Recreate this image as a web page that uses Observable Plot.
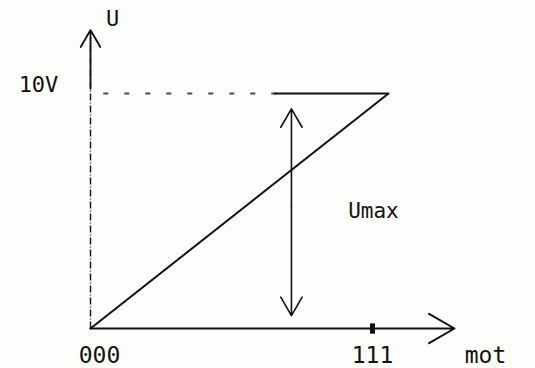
<!DOCTYPE html>
<html><head><meta charset="utf-8">
<script src="https://cdn.jsdelivr.net/npm/d3@7"></script>
<script src="https://cdn.jsdelivr.net/npm/@observablehq/plot@0.6"></script>
<style>body{margin:0;background:#fdfdfb;} svg{background:#fdfdfb;}</style>
</head><body><div id="c"></div>
<script>
// words (binary input) and output voltage
const words = ["000", "111"];
const wordValues = [0, 7];
const voltages = [0, 10];
const vmaxLabel = "10V";
const umaxPos = 4.72;      // word position of the Umax annotation arrow
const xAxisEnd = 8.55;     // arrow tip of horizontal axis
const yAxisEnd = 12.7;     // arrow tip of vertical axis

const ramp = wordValues.map((w, i) => ({w, v: voltages[i], label: words[i]}));
const ink = "#111";
const font = "DejaVu Sans Mono, monospace";
const wordText = (d, dx) => Plot.text([d], {x: "w", y: () => 0, text: "label", dx, dy: 27, fontSize: 23, fill: ink, letterSpacing: 2, textAnchor: "middle"});

const chart = Plot.plot({
  width: 535, height: 368,
  marginLeft: 90, marginRight: 147, marginTop: 93, marginBottom: 40,
  x: {domain: [0, 7], axis: null},
  y: {domain: [0, 10], axis: null},
  style: {background: "#fdfdfb", fontFamily: font},
  marks: [
    // vertical axis (dashed) with arrow
    Plot.link([{}], {x1: 0, y1: 0, x2: 0, y2: yAxisEnd - 0.3, stroke: ink, strokeWidth: 1.4, strokeDasharray: "7,2,1,2"}),
    Plot.arrow([{}], {x1: 0, y1: 10.2, x2: 0, y2: yAxisEnd, stroke: ink, strokeWidth: 1.8, headLength: 18}),
    // horizontal axis with arrow
    Plot.arrow([{}], {x1: 0, y1: 0, x2: xAxisEnd, y2: 0, stroke: ink, strokeWidth: 2, headLength: 22}),
    // tick at 111
    Plot.link([{}], {x1: 7, y1: -0.22, x2: 7, y2: 0.22, dx: -16, stroke: ink, strokeWidth: 5}),
    // dashed 10V level
    Plot.link([{}], {x1: 0.3, y1: 10, x2: umaxPos - 0.2, y2: 10, stroke: ink, strokeWidth: 2, strokeDasharray: "5,16", strokeOpacity: 0.75}),
    Plot.link([{}], {x1: umaxPos - 0.4, y1: 10, x2: 7, y2: 10, stroke: ink, strokeWidth: 2.2}),
    // ramp
    Plot.line(ramp, {x: "w", y: "v", stroke: ink, strokeWidth: 2}),
    // Umax double arrow
    Plot.arrow([{}], {x1: umaxPos, y1: 5.2, x2: umaxPos, y2: 9.35, stroke: ink, strokeWidth: 1.6, headLength: 20}),
    Plot.arrow([{}], {x1: umaxPos, y1: 5.2, x2: umaxPos, y2: 0.55, stroke: ink, strokeWidth: 1.6, headLength: 20}),
    // labels
    Plot.text([vmaxLabel], {x: 0, y: 10, text: d => d, dx: -52, dy: -9, fontSize: 22, fill: ink, letterSpacing: 2, textAnchor: "middle"}),
    Plot.text(["U"], {x: 0, y: yAxisEnd, text: d => d, dx: 22, dy: -11, fontSize: 22, fill: ink, textAnchor: "middle"}),
    wordText(ramp[0], 9),
    wordText(ramp[1], -16),
    Plot.text(["Umax"], {x: umaxPos, y: 5, text: d => d, dx: 82, dy: 0, fontSize: 21, fill: ink, letterSpacing: 1, textAnchor: "middle"}),
    Plot.text(["mot"], {x: xAxisEnd, y: 0, text: d => d, dx: 31, dy: 27, fontSize: 23, fill: ink, letterSpacing: 2, textAnchor: "middle"})
  ]
});
document.getElementById("c").appendChild(chart);
</script></body></html>
